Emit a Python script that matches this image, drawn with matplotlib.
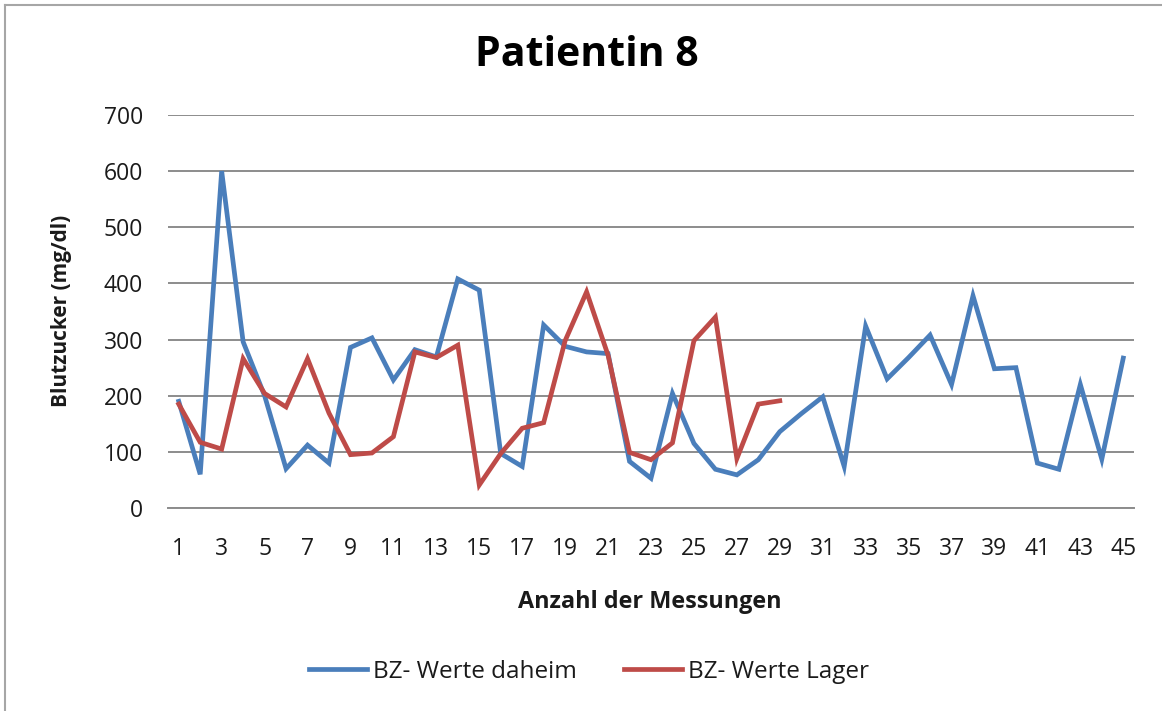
import matplotlib
matplotlib.use("Agg")
import matplotlib.pyplot as plt
from matplotlib.lines import Line2D

plt.rcParams['font.family'] = ['Open Sans', 'DejaVu Sans']

title = "Patientin 8"
x_label = "Anzahl der Messungen"
y_label = "Blutzucker (mg/dl)"
series_names = ["BZ- Werte daheim", "BZ- Werte Lager"]

home_values = [190, 60, 600, 296, 200, 70, 112, 80, 286, 303, 228, 282, 269, 408, 388,
               97, 74, 326, 288, 278, 275, 83, 53, 204, 115, 69, 59, 86, 136, 168,
               198, 74, 324, 230, 268, 308, 220, 378, 248, 250, 80, 69, 220, 87, 267]
camp_values = [185, 117, 105, 266, 204, 180, 266, 169, 95, 98, 127, 278, 268, 290, 41,
               97, 142, 152, 298, 385, 272, 99, 86, 116, 298, 340, 88, 185, 191]

home_x = list(range(1, len(home_values) + 1))
camp_x = list(range(1, len(camp_values) + 1))
x_ticks = list(range(1, 46, 2))
y_ticks = list(range(0, 701, 100))

W, H = 1162, 711
fig = plt.figure(figsize=(W / 100, H / 100), dpi=100)
fig.patch.set_facecolor('white')

ax = fig.add_axes([168 / W, 1 - 508 / H, (1134 - 168) / W, (508 - 115) / H])

blue = '#4A7EBB'
red = '#BE4B48'
ax.plot(home_x, home_values, color=blue, lw=3.4, solid_joinstyle='miter', label=series_names[0], zorder=3)
ax.plot(camp_x, camp_values, color=red, lw=3.4, solid_joinstyle='miter', label=series_names[1], zorder=4)

ax.set_xlim(0.5, 45.5)
ax.set_ylim(0, 700)
ax.set_xticks(x_ticks)
ax.set_yticks(y_ticks)
ax.yaxis.grid(True, color='#8C8C8C', lw=1.4)
ax.set_axisbelow(True)
for s in ['top', 'right', 'left']:
    ax.spines[s].set_visible(False)
ax.spines['bottom'].set_color('#8C8C8C')
ax.spines['bottom'].set_linewidth(1.4)
ax.tick_params(axis='both', length=0, labelsize=16.5, labelcolor='#1a1a1a')
ax.tick_params(axis='y', pad=18)
ax.tick_params(axis='x', pad=21)
for lab in ax.get_xticklabels() + ax.get_yticklabels():
    lab.set_fontweight('medium')

fig.text(587 / W, 1 - 55 / H, title, ha='center', va='center', fontsize=29.5, fontweight='bold', color='black')
fig.text(650 / W, 1 - 602 / H, x_label, ha='center', va='center', fontsize=16.8, fontweight='bold', color='#1a1a1a')
fig.text(62 / W, 1 - 311 / H, y_label, ha='center', va='center', rotation=90, fontsize=15, fontweight='bold', color='#1a1a1a')

leg = fig.legend(loc='center', bbox_to_anchor=(589 / W, 1 - 672 / H), ncol=2, frameon=False,
                 fontsize=17.5, handlelength=2.4, handletextpad=0.25, columnspacing=1.9)
for t in leg.get_texts():
    t.set_color('#1a1a1a')

fig.add_artist(Line2D([5 / W, 5 / W], [0, 1 - 5 / H], transform=fig.transFigure, color='#A6A6A6', lw=1.5))
fig.add_artist(Line2D([5 / W, 1], [1 - 5 / H, 1 - 5 / H], transform=fig.transFigure, color='#A6A6A6', lw=1.5))

fig.savefig('out.png', dpi=100, facecolor='white')
